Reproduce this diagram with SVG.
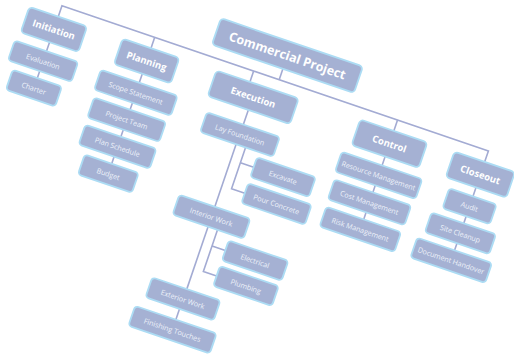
<svg xmlns="http://www.w3.org/2000/svg" width="514" height="355" viewBox="0 0 514 355">
<style>
.box{fill:#a5b1d3;stroke:#acdcf4;stroke-width:1.8}
.l1 text,.root text{font-family:"Open Sans","Liberation Sans",sans-serif;font-weight:700;fill:#ffffff;text-anchor:middle;dominant-baseline:central}
.ch text{font-family:"Open Sans","Liberation Sans",sans-serif;font-weight:400;font-size:7.2px;fill:#eef1fa;text-anchor:middle;dominant-baseline:central}
.l1 text{font-size:9.5px}
.root text{font-size:12.5px}
#connectors path{fill:none;stroke:#a3abd3;stroke-width:1.6}
</style>
<rect width="514" height="355" fill="#ffffff"/>
<g transform="rotate(18.8)">
<g id="connectors">
<path d="M60.5,-3 V-14.5 H511 V-3"/>
<path d="M290,-26 V-14.5"/>
<path d="M158.5,-14.5 V-3"/>
<path d="M263,-14.5 V-3"/>
<path d="M415,-14.5 V-3"/>
<path d="M60.5,24 V33.5 M60.5,54.5 V62"/>
<path d="M158.5,24 V33.5 M158.5,54.5 V62 M158.5,83 V90.5 M158.5,111.5 V119"/>
<path d="M415,24 V33.5 M415,54.5 V62 M415,83 V90.5"/>
<path d="M511,24 V33.5 M511,54.5 V62 M511,83 V90.5"/>
<path d="M270.5,24 V39.5"/>
<path d="M270,60.5 V126.5"/>
<path d="M280,60.5 V104 H294 M280,76.5 H294"/>
<path d="M270,147.5 V213.5"/>
<path d="M280,147.5 V191.5 H294 M280,164.5 H294"/>
<path d="M269.5,234.5 V246"/>
</g>
<g id="n-root" class="root"><rect class="box" x="215" y="-54" width="150" height="28" rx="4"/><text x="290" y="-40">Commercial Project</text></g>
<g id="n-initiation" class="l1"><rect class="box" x="30" y="-3" width="61" height="27" rx="4"/><text x="60.5" y="10.5">Initiation</text></g>
<g id="n-planning" class="l1"><rect class="box" x="128.5" y="-3" width="60" height="27" rx="4"/><text x="158.5" y="10.5">Planning</text></g>
<g id="n-execution" class="l1"><rect class="box" x="227.5" y="-3" width="87" height="27" rx="4"/><text x="271" y="10.5">Execution</text></g>
<g id="n-control" class="l1"><rect class="box" x="379.5" y="-3" width="71" height="27" rx="4"/><text x="415" y="10.5">Control</text></g>
<g id="n-closeout" class="l1"><rect class="box" x="479" y="-3" width="64" height="27" rx="4"/><text x="511" y="10.5">Closeout</text></g>

<g id="n-evaluation" class="ch"><rect class="box" x="27" y="33.5" width="67" height="21" rx="3.5"/><text x="60.5" y="44">Evaluation</text></g>
<g id="n-charter" class="ch"><rect class="box" x="34.5" y="62" width="52" height="21" rx="3.5"/><text x="60.5" y="72.5">Charter</text></g>

<g id="n-scope" class="ch"><rect class="box" x="118" y="33.5" width="81" height="21" rx="3.5"/><text x="158.5" y="44">Scope Statement</text></g>
<g id="n-team" class="ch"><rect class="box" x="120.5" y="62" width="76" height="21" rx="3.5"/><text x="158.5" y="72.5">Project Team</text></g>
<g id="n-schedule" class="ch"><rect class="box" x="121" y="90.5" width="75" height="21" rx="3.5"/><text x="158.5" y="101">Plan Schedule</text></g>
<g id="n-budget" class="ch"><rect class="box" x="130" y="119" width="57" height="21" rx="3.5"/><text x="158.5" y="129.5">Budget</text></g>

<g id="n-lay" class="ch"><rect class="box" x="232" y="39.5" width="77" height="21" rx="3.5"/><text x="270.5" y="50">Lay Foundation</text></g>
<g id="n-excavate" class="ch"><rect class="box" x="294" y="66" width="62" height="21" rx="3.5"/><text x="325" y="76.5">Excavate</text></g>
<g id="n-pour" class="ch"><rect class="box" x="294" y="93.5" width="67" height="21" rx="3.5"/><text x="327.5" y="104">Pour Concrete</text></g>
<g id="n-interior" class="ch"><rect class="box" x="232.5" y="126.5" width="75" height="21" rx="3.5"/><text x="270" y="137">Interior Work</text></g>
<g id="n-electrical" class="ch"><rect class="box" x="294" y="154" width="63" height="21" rx="3.5"/><text x="325.5" y="164.5">Electrical</text></g>
<g id="n-plumbing" class="ch"><rect class="box" x="294" y="181" width="62" height="21" rx="3.5"/><text x="325" y="191.5">Plumbing</text></g>
<g id="n-exterior" class="ch"><rect class="box" x="233.5" y="213.5" width="72" height="21" rx="3.5"/><text x="269.5" y="224">Exterior Work</text></g>
<g id="n-finishing" class="ch"><rect class="box" x="226.5" y="246" width="86" height="21" rx="3.5"/><text x="269.5" y="256.5">Finishing Touches</text></g>

<g id="n-resource" class="ch"><rect class="box" x="372.5" y="33.5" width="85" height="21" rx="3.5"/><text x="415" y="44">Resource Management</text></g>
<g id="n-cost" class="ch"><rect class="box" x="374.5" y="62" width="81" height="21" rx="3.5"/><text x="415" y="72.5">Cost Management</text></g>
<g id="n-risk" class="ch"><rect class="box" x="375.5" y="90.5" width="79" height="21" rx="3.5"/><text x="415" y="101">Risk Management</text></g>

<g id="n-audit" class="ch"><rect class="box" x="486" y="33.5" width="50" height="21" rx="3.5"/><text x="511" y="44">Audit</text></g>
<g id="n-site" class="ch"><rect class="box" x="477" y="62" width="68" height="21" rx="3.5"/><text x="511" y="72.5">Site Cleanup</text></g>
<g id="n-document" class="ch"><rect class="box" x="471.5" y="90.5" width="79" height="21" rx="3.5"/><text x="511" y="101">Document Handover</text></g>
</g>
</svg>
